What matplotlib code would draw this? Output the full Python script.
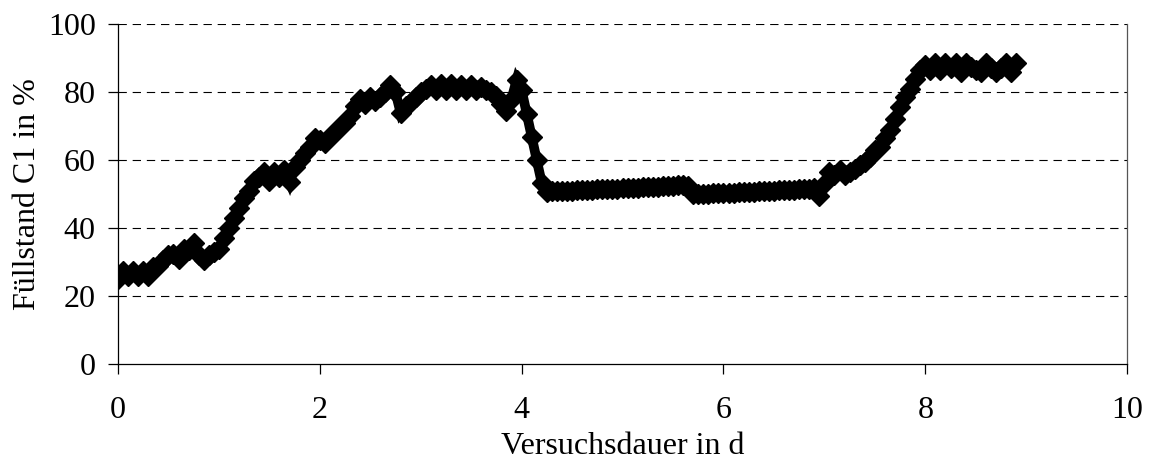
import numpy as np
import matplotlib
matplotlib.use("Agg")
import matplotlib.pyplot as plt

plt.rcParams['font.family'] = ['Liberation Serif', 'DejaVu Serif']
plt.rcParams['lines.scale_dashes'] = False

# Füllstand C1, sampled every 0.05 d
dauer = np.arange(0, 179) * 0.05
fuellstand = [
    25.0, 27.5, 26.0, 27.5, 26.0, 27.5, 26.0, 28.5, 29.0, 30.5,   # 0.00 - 0.45
    32.0, 32.5, 31.0, 34.0, 33.5, 35.5, 32.0, 30.5, 32.0, 33.0,   # 0.50 - 0.95
    34.0, 37.0, 40.0, 43.0, 46.0, 49.0, 51.0, 54.0, 55.0, 56.5,   # 1.00 - 1.45
    54.0, 56.5, 55.0, 57.0, 53.5, 58.0, 60.0, 62.0, 64.0, 66.5,   # 1.50 - 1.95
    66.0, 65.0, 67.0, 68.0, 70.0, 71.0, 73.0, 76.0, 78.0, 76.5,   # 2.00 - 2.45
    78.5, 77.5, 78.5, 80.0, 82.0, 80.0, 74.0, 76.0, 77.0, 78.5,   # 2.50 - 2.95
    80.0, 81.0, 82.0, 80.5, 82.5, 80.5, 82.5, 80.5, 82.0, 80.5,   # 3.00 - 3.45
    82.0, 80.5, 81.5, 80.5, 80.0, 79.0, 76.5, 74.5, 78.0, 83.5,   # 3.50 - 3.95
    80.6, 73.7, 66.9, 60.0, 53.2, 50.7, 50.8, 50.8, 50.9, 51.0,   # 4.00 - 4.45
    51.0, 51.1, 51.2, 51.2, 51.3, 51.4, 51.4, 51.5, 51.6, 51.6,   # 4.50 - 4.95
    51.7, 51.8, 51.9, 51.9, 52.0, 52.1, 52.1, 52.2, 52.3, 52.4,   # 5.00 - 5.45
    52.5, 52.6, 52.7, 52.5, 50.0, 50.0, 50.1, 50.1, 50.2, 50.2,   # 5.50 - 5.95
    50.3, 50.4, 50.4, 50.5, 50.5, 50.6, 50.7, 50.8, 50.9, 51.0,   # 6.00 - 6.45
    51.0, 51.1, 51.2, 51.2, 51.3, 51.4, 51.5, 51.6, 51.7, 49.5,   # 6.50 - 6.95
    53.0, 56.5, 55.5, 57.0, 55.5, 56.5, 57.5, 58.5, 59.5, 61.0,   # 7.00 - 7.45
    63.0, 64.0, 66.5, 69.0, 72.0, 75.5, 78.5, 81.0, 84.0, 86.5,   # 7.50 - 7.95
    88.0, 86.5, 88.5, 86.5, 88.5, 87.0, 88.5, 86.0, 88.5, 87.5,   # 8.00 - 8.45
    86.5, 86.0, 88.5, 87.0, 86.0, 87.0, 88.5, 86.0, 88.5,         # 8.50 - 8.90
]

xticks = [0, 2, 4, 6, 8, 10]
yticks = [0, 20, 40, 60, 80, 100]

fig = plt.figure(figsize=(11.52, 4.65), dpi=100)
ax = fig.add_axes([0.1024, 0.217, 0.876, 0.731])

for v in yticks[1:]:
    ax.axhline(v, color='black', linewidth=0.8, linestyle=(0, (6, 4.2)), zorder=1)

ax.plot(dauer, fuellstand, color='black', linewidth=7, marker='D', markersize=10,
        markerfacecolor='black', markeredgecolor='black', solid_joinstyle='miter',
        zorder=3)

ax.set_xlim(0, 10)
ax.set_ylim(0, 100)
ax.set_xticks(xticks)
ax.set_yticks(yticks)
ax.tick_params(axis='both', direction='out', length=7, width=0.9, labelsize=23)
ax.tick_params(axis='x', pad=16)
ax.tick_params(axis='y', pad=9)

ax.spines['top'].set_visible(False)
for s in ['left', 'bottom', 'right']:
    ax.spines[s].set_linewidth(0.9)
ax.spines['right'].set_color('#555555')

ax.set_xlabel('Versuchsdauer in d', fontsize=23, labelpad=5)
ax.set_ylabel('Füllstand C1 in %', fontsize=23, labelpad=4)

fig.savefig('out.png', dpi=100, facecolor='white')
